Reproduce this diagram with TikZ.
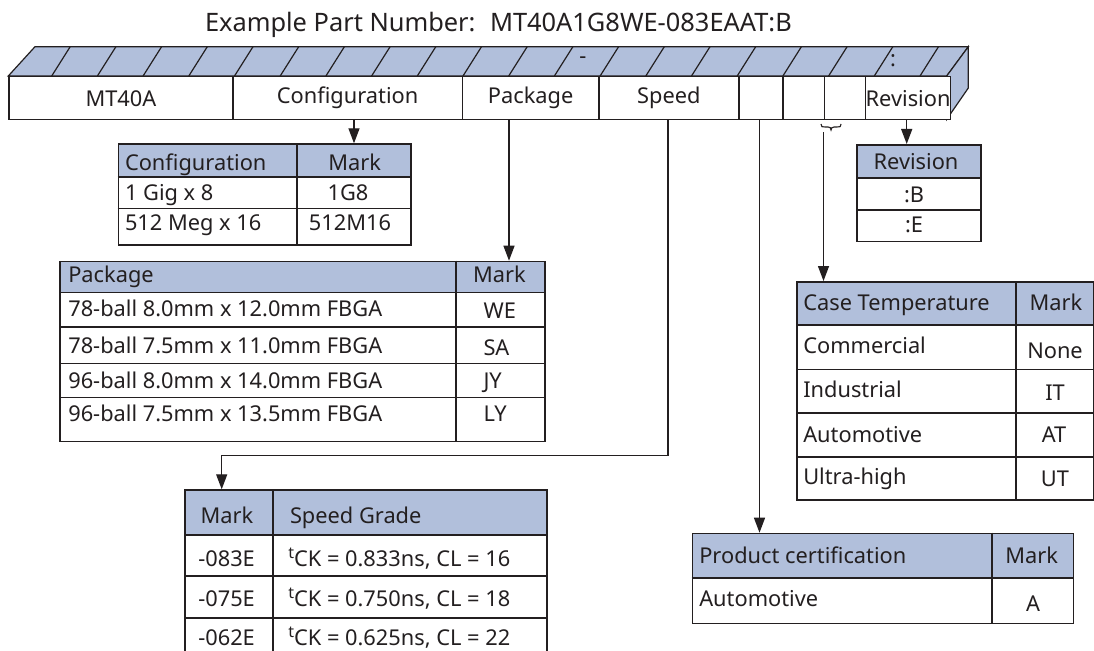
\documentclass[tikz,border=0pt]{standalone}
\usepackage{fontspec}
\setmainfont{Noto Sans}
\usetikzlibrary{arrows.meta}
\definecolor{ink}{RGB}{35,31,32}
\definecolor{hdr}{RGB}{177,191,219}
\newcommand\bodyfont{\fontsize{21.8}{24}\selectfont}
\newcommand\titlefont{\fontsize{25.4}{28}\selectfont}
\newcommand\tsup{\raisebox{0.36em}{\fontsize{16}{16}\selectfont t}}
\begin{document}
\begin{tikzpicture}[x=1pt,y=-1pt,line join=miter,
  tline/.style={draw=ink,line width=1.6pt},
  bline/.style={draw=ink,line width=1.2pt},
  arr/.style={draw=ink,line width=1.3pt,-{Triangle[length=15pt,width=11pt]}},
  tx/.style={inner sep=0pt,outer sep=0pt,text=ink,font=\bodyfont},
  lt/.style={tx,anchor=base west},
  ct/.style={tx,anchor=base},
  cell/.style={draw=ink,line width=1.2pt,fill=white,minimum height=43.3pt,anchor=north west,inner sep=0pt,text=ink,font=\bodyfont},
  tbl/.style={draw=ink,line width=1.6pt,anchor=north west,inner sep=0pt},
]
\useasboundingbox (0,0) rectangle (1094,650);
\fill[white] (0,0) rectangle (1094,650);

% title
\node[lt,font=\titlefont] (title1) at (205,32) {Example Part Number:};
\node[lt,font=\titlefont] (title2) at (490,32) {MT40A1G8WE-083EAAT:B};

% bar: top and side faces
\filldraw[hdr,draw=ink,line width=1.2pt] (8.3,76) -- (35,46.7) -- (968.3,46.7) -- (946.7,76) -- cycle;
\filldraw[hdr,draw=ink,line width=1.2pt] (946.7,76) -- (968.3,46.7) -- (968.3,88) -- (946.7,119.3) -- cycle;
\foreach \k in {0,...,19}{
  \draw[bline] ({51.7+45.7*\k},76) -- ({70.2+45.7*\k},46.7);
}
\node[ct] (dash) at (583,64) {-};
\node[ct] (colon) at (893,66.5) {:};

% bar: front cells
\node[cell,minimum width=224pt] (bMT) at (8.3,76) {MT40A};
\node[cell,minimum width=229.4pt] (bCfg) at (232.3,76) {Configuration};
\node[cell,minimum width=136.6pt] (bPkg) at (461.7,76) {Package};
\node[cell,minimum width=140pt] (bSpd) at (598.3,76) {Speed};
\node[cell,minimum width=44pt] (bX1) at (738.3,76) {};
\node[cell,minimum width=41.7pt] (bX2) at (782.3,76) {};
\node[cell,minimum width=41pt] (bX3) at (824,76) {};
\node[cell,minimum width=81.7pt] (bRev) at (865,76) {Revision};

% brace
\draw[ink,line width=1.1pt] (821,124) .. controls (821,127) and (822,127) .. (825,127) -- (828,127)
  .. controls (830,127) and (831,128) .. (831,130) .. controls (831,128) and (832,127) .. (834,127)
  -- (837,127) .. controls (840,127) and (841,127) .. (841,124);

% Configuration table
\fill[hdr] (117.7,143.3) rectangle (410,176.7);
\draw[tline] (117.7,176.7) -- (410,176.7) (117.7,208.3) -- (410,208.3) (296.7,143.3) -- (296.7,244.3);
\node[tbl,minimum width=292.3pt,minimum height=101pt] (cfgT) at (117.7,143.3) {};
\node[lt] (c1) at (125,170) {Configuration};
\node[ct] (c2) at (354.7,170) {Mark};
\node[lt] (c3) at (125,200) {1 Gig x 8};
\node[ct] (c4) at (348,200) {1G8};
\node[lt] (c5) at (125,230) {512 Meg x 16};
\node[ct] (c6) at (350,230) {512M16};

% Package table
\fill[hdr] (59.3,260.7) rectangle (544,292.3);
\draw[tline] (59.3,292.3) -- (544,292.3) (59.3,326.7) -- (544,326.7) (59.3,363.3) -- (544,363.3)
  (59.3,397.3) -- (544,397.3) (455.7,260.7) -- (455.7,440.7);
\node[tbl,minimum width=484.7pt,minimum height=180pt] (pkgT) at (59.3,260.7) {};
\node[lt] (p1) at (68.3,282) {Package};
\node[ct] (p2) at (499.5,282) {Mark};
\node[lt] (p3) at (68.3,316.7) {78-ball 8.0mm x 12.0mm FBGA};
\node[lt] (p4) at (483.5,318.3) {WE};
\node[lt] (p5) at (68.3,353.3) {78-ball 7.5mm x 11.0mm FBGA};
\node[lt] (p6) at (483.5,355) {SA};
\node[lt] (p7) at (68.3,388.3) {96-ball 8.0mm x 14.0mm FBGA};
\node[lt] (p8) at (483.5,388.3) {JY};
\node[lt] (p9) at (68.3,421.7) {96-ball 7.5mm x 13.5mm FBGA};
\node[lt] (p10) at (483.5,421.7) {LY};

% Speed table (runs off the bottom)
\begin{scope}
\clip (0,0) rectangle (1094,650);
\fill[hdr] (184,489.3) rectangle (546,535);
\draw[tline] (184,535) -- (546,535) (184,576) -- (546,576) (184,617.7) -- (546,617.7) (272.7,489.3) -- (272.7,700);
\node[tbl,minimum width=362pt,minimum height=200pt] (spdT) at (184,489.3) {};
\end{scope}
\node[ct] (s1) at (227,523.3) {Mark};
\node[lt] (s2) at (290,523.3) {Speed Grade};
\node[lt] (s3) at (198.3,566.7) {-083E};
\node[lt] (s4) at (288.3,566.7) {\tsup CK = 0.833ns, CL = 16};
\node[lt] (s5) at (198.3,606.7) {-075E};
\node[lt] (s6) at (288.3,606.7) {\tsup CK = 0.750ns, CL = 18};
\node[lt] (s7) at (198.3,645.5) {-062E};
\node[lt] (s8) at (288.3,645.5) {\tsup CK = 0.625ns, CL = 22};

% Revision table
\fill[hdr] (856,144) rectangle (980,177.7);
\draw[tline] (856,177.7) -- (980,177.7) (856,210) -- (980,210);
\node[tbl,minimum width=124pt,minimum height=96.7pt] (revT) at (856,144) {};
\node[ct] (r1) at (916,169.3) {Revision};
\node[ct] (r2) at (914,202.7) {:B};
\node[ct] (r3) at (914,232.7) {:E};

% Case temperature table
\fill[hdr] (796,281) rectangle (1093,325);
\draw[tline] (796,325) -- (1093,325) (796,369.3) -- (1093,369.3) (796,412.7) -- (1093,412.7)
  (796,456.7) -- (1093,456.7) (1016,281) -- (1016,499.3);
\node[tbl,minimum width=297pt,minimum height=218.3pt] (caseT) at (796,281) {};
\node[lt] (k1) at (803.3,310.7) {Case Temperature};
\node[ct] (k2) at (1056,310.7) {Mark};
\node[lt] (k3) at (803.3,353.3) {Commercial};
\node[ct] (k4) at (1055,358.3) {None};
\node[lt] (k5) at (803.3,397.7) {Industrial};
\node[ct] (k6) at (1055,400.7) {IT};
\node[lt] (k7) at (803.3,442.7) {Automotive};
\node[ct] (k8) at (1054,442.7) {AT};
\node[lt] (k9) at (803.3,484.3) {Ultra-high};
\node[ct] (k10) at (1055,486.7) {UT};

% Product certification table
\fill[hdr] (691.7,532.7) rectangle (1072.7,577.7);
\draw[tline] (691.7,577.7) -- (1072.7,577.7) (991.7,532.7) -- (991.7,622.7);
\node[tbl,minimum width=381pt,minimum height=90pt] (prdT) at (691.7,532.7) {};
\node[lt] (q1) at (699.3,563.3) {Product certification};
\node[ct] (q2) at (1031.7,563.3) {Mark};
\node[lt] (q3) at (699.3,606.7) {Automotive};
\node[ct] (q4) at (1033,611) {A};

% connectors
\coordinate (aCfg) at (354,119.3);
\coordinate (aPkg) at (509,119.3);
\coordinate (aSpd) at (668,119.3);
\coordinate (sBend) at (668,455.7);
\coordinate (sDrop) at (221.7,455.7);
\coordinate (aPrd) at (759.5,119.3);
\coordinate (aCase) at (823.5,132);
\coordinate (aRev) at (906.7,119.3);
\draw[arr] (aCfg) -- (aCfg |- cfgT.north);
\draw[arr] (aPkg) -- (aPkg |- pkgT.north);
\draw[arr] (aSpd) -- (sBend) -- (sDrop) -- (sDrop |- spdT.north);
\draw[arr] (aPrd) -- (aPrd |- prdT.north);
\draw[arr] (aCase) -- (aCase |- caseT.north);
\draw[arr] (aRev) -- (aRev |- revT.north);
\end{tikzpicture}
\end{document}
